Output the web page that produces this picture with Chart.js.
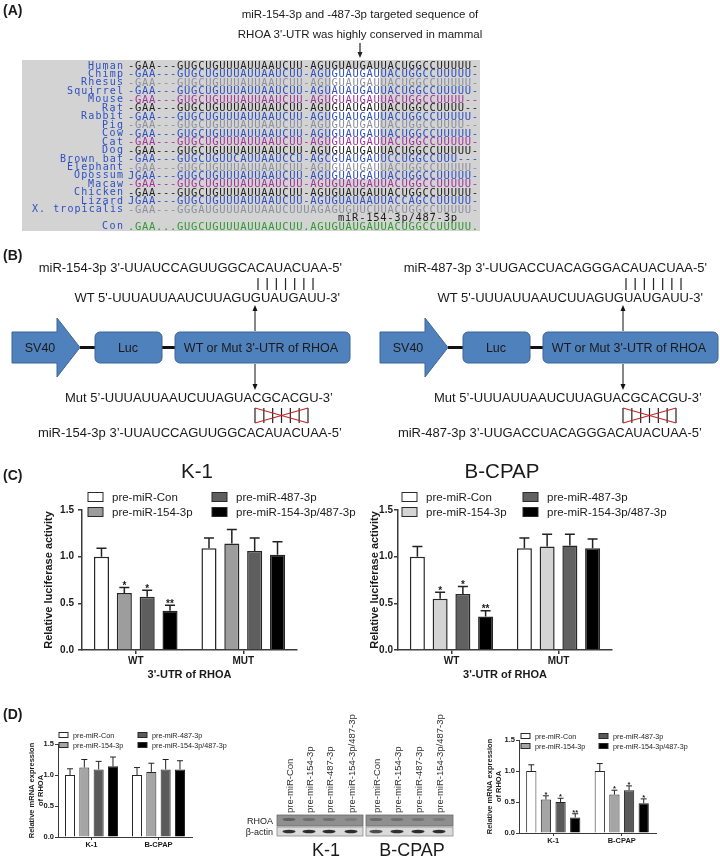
<!DOCTYPE html>
<html><head><meta charset="utf-8">
<script src="https://cdn.jsdelivr.net/npm/chart.js@4.4.1/dist/chart.umd.min.js"></script>
<style>
html,body{margin:0;padding:0;background:#fff;}
#root{position:relative;width:720px;height:859px;overflow:hidden;background:#fff;}
canvas{position:absolute;}
#ov{position:absolute;left:0;top:0;pointer-events:none;}
</style></head><body><div id="root">
<canvas id="cK1" width="310" height="195" style="left:0px;top:490px"></canvas>
<canvas id="cBC" width="310" height="195" style="left:316px;top:490px"></canvas>
<canvas id="dL" width="200" height="120" style="left:0px;top:730px"></canvas>
<canvas id="dR" width="180" height="120" style="left:480px;top:726px"></canvas>
<svg id="ov" width="720" height="859" xmlns="http://www.w3.org/2000/svg"></svg>
</div>
<script>
// ---------------- DATA ----------------
const alignSpecies = ["Human","Chimp","Rhesus","Squirrel","Mouse","Rat","Rabbit","Pig","Cow","Cat","Dog","Brown bat","Elephant","Opossum","Macaw","Chicken","Lizard","X. tropicalis"];
const alignSeqs = [
"-GAA---GUGCUGUUUAUUAAUCUU-AGUGUAUGAUUACUGGCCUUUUU-",
"-GAA---GUGCUGUUUAUUAAUCUU-AGUGUAUGAUUACUGGCCUUUUU-",
"-GAA---GUGCUGUUUAUUAAUCUU-AGUGUAUGAUUACUGGCCUUUUU-",
"-GAA---GUGCUGUUUAUUAAUCUU-AGUAUAUGAUUACUGGCCUUUUU-",
"-GAA---GUGCUGUUUAUUAAUCUU-AGUGUAUGAUUACUGGCCUUUU--",
"-GAA---GUGCUGUUUAUUAAUCUU-AGUGUAUGAUUACUGGCCUUUU--",
"-GAA---GUGCUGUUUAUUAAUCUU-AGUGUAUGAUUACUGGCCUUUUU-",
"-GAA---GUGCUGUUUAUUAAUCUU-AGUGUAUGAUUACUGGCCUUUU--",
"-GAA---GUGCUGUUUAUUAAUCUU-AGUGUAUGAUUACUGGCCUUUUU-",
"-GAA---GUGCUGUUUAUUAAUCUU-AGUGUAUGAUUACUGGCCUUUUU-",
"-GAA---GUGCUGUUUAUUAAUCUU-AGUGUAUGAUUACUGGCCUUUUU-",
"-GAA---GUGCUGUUCAUUAAUCCU-AGCGUAUGAUUCCUGGCCUUU---",
"-GAA---GUGCUGUUUAUUAAUCUU-AGUGUAUGAUUACUGGCCUUUUU-",
"JGAA---GUGCUGUUUAUUAAUCUU-AGUGUAUGAUUACUGGCCUUUUU-",
"-GAA---GUGCUGUUUAUUAAUCUU-AGUGUAUGAUUACUGGCCUUUUU-",
"-GAA---GUGCUGUUUAUUAAUCUU-AGUGUAUGAUUACUGGCCUUUUU-",
"JGAA---GUGCUGUUUAUUAAUCUU-AGUGUAUAAUUACCAGCCUUUUU-",
"-GAA---GGGAUGUUUAUUAAUCUUUAGAGUGUUCUUACUGGCCUUUUU-"];
const consensusLabel = "miR-154-3p/487-3p";
const consensusName = "Con";
const consensusSeq = ".GAA...GUGCUGUUUAUUAAUCUU.AGUGUAUGAUUACUGGCCUUUUU.";

const seriesNames = ["pre-miR-Con","pre-miR-154-3p","pre-miR-487-3p","pre-miR-154-3p/487-3p"];
const utrGroups = ["WT","MUT"];
const cellGroups = ["K-1","B-CPAP"];

// (C) luciferase, K-1  [series][group]
const lucK1Mean = [[1.00,1.09],[0.61,1.14],[0.57,1.06],[0.42,1.02]];
const lucK1Err  = [[0.09,0.11],[0.06,0.15],[0.07,0.14],[0.06,0.14]];
const lucK1Sig  = [["",""],["*",""],["*",""],["**",""]];
// (C) luciferase, B-CPAP
const lucBCMean = [[1.00,1.09],[0.55,1.11],[0.60,1.12],[0.36,1.09]];
const lucBCErr  = [[0.11,0.11],[0.07,0.13],[0.08,0.12],[0.06,0.10]];
const lucBCSig  = [["",""],["*",""],["*",""],["**",""]];
// (D) mRNA
const mrnaMean = [[1.00,1.00],[1.12,1.05],[1.09,1.09],[1.14,1.09]];
const mrnaErr  = [[0.10,0.12],[0.13,0.14],[0.13,0.16],[0.15,0.14]];
// (D) protein (right)
const protMean = [[1.00,1.00],[0.54,0.62],[0.50,0.69],[0.25,0.48]];
const protErr  = [[0.10,0.12],[0.06,0.07],[0.06,0.07],[0.06,0.07]];
const protSig  = [["",""],["*","*"],["*","*"],["**","*"]];
// blot band intensities (K-1 lanes then B-CPAP lanes)
const blotRhoa  = [0.55,0.38,0.36,0.22, 0.42,0.38,0.32,0.24];
const blotActin = [0.90,0.92,0.92,0.92, 0.75,0.90,0.92,0.92];

// ---------------- STYLE ----------------
const FONTF = '"Liberation Sans", Arial, Helvetica, sans-serif';
const MONO = '"DejaVu Sans Mono", monospace';
const AXIS = '#3a3a3a';
const colK1 = ['#ffffff','#9d9d9d','#5e5e5e','#000000'];
const colBC = ['#ffffff','#d4d4d4','#616161','#000000'];
const colD  = ['#ffffff','#a5a5a5','#5a5a5a','#000000'];
const rowColors = ['#1e1e1e','#2e4fc0','#8d8f9c','#2e4fc0','#a2329a'];
const nameColor = '#2e4fc0';

// ---------------- SVG helpers ----------------
const NS = "http://www.w3.org/2000/svg";
const svg = document.getElementById('ov');
function el(tag, attrs, text) {
  const e = document.createElementNS(NS, tag);
  for (const k in attrs) e.setAttribute(k, attrs[k]);
  if (text != null) e.textContent = text;
  svg.appendChild(e); return e;
}
function txt(x, y, s, o) {
  return el('text', Object.assign({x: x, y: y, 'font-family': FONTF, 'font-size': 12, fill: '#1a1a1a', 'dominant-baseline': 'central'}, o || {}), s);
}

// ---------------- PANEL A ----------------
txt(3, 10, '(A)', {'font-size': 14, 'font-weight': 'bold'});
txt(360, 14, 'miR-154-3p and -487-3p targeted sequence of', {'text-anchor': 'middle', 'font-size': 11.5});
txt(360, 34, "RHOA 3'-UTR was highly conserved in mammal", {'text-anchor': 'middle', 'font-size': 11.5});
el('line', {x1: 360, y1: 43, x2: 360, y2: 54, stroke: '#222', 'stroke-width': 1.2});
el('polygon', {points: '357.5,52 362.5,52 360,58', fill: '#222'});
const AX = 128, CW = 7, RY0 = 65, RH = 8.46;
el('rect', {x: 22, y: 60, width: 458, height: 171, fill: '#d3d3d3'});
el('rect', {x: AX + 29 * CW, y: RY0 + RH * 0.5, width: 7 * CW, height: RH * 13, fill: '#ffffff'});
const seqAttr = {'font-family': MONO, 'font-size': 10.5, lengthAdjust: 'spacing'};
alignSpecies.forEach((n, i) => {
  const y = RY0 + i * RH;
  txt(123, y, n, Object.assign({}, seqAttr, {'font-size': 10, fill: nameColor, 'text-anchor': 'end', textLength: n.length * CW}));
  txt(AX, y, alignSeqs[i], Object.assign({}, seqAttr, {fill: rowColors[i % 5], textLength: alignSeqs[i].length * CW}));
});
txt(AX + 30 * CW, RY0 + 18 * RH, consensusLabel, Object.assign({}, seqAttr, {fill: '#1e1e1e', textLength: consensusLabel.length * CW}));
txt(123, RY0 + 19 * RH, consensusName, Object.assign({}, seqAttr, {'font-size': 10, fill: nameColor, 'text-anchor': 'end', textLength: 3 * CW}));
txt(AX, RY0 + 19 * RH, consensusSeq, Object.assign({}, seqAttr, {fill: '#2f9a2f', textLength: consensusSeq.length * CW}));

// ---------------- PANEL B ----------------
txt(3, 255, '(B)', {'font-size': 14, 'font-weight': 'bold'});
const BLUE = '#4f81bd', BLUE_S = '#3b6596';
function construct(dx) {
  el('polygon', {points: `${12+dx},332 ${57+dx},332 ${57+dx},318 ${80+dx},347.5 ${57+dx},377 ${57+dx},363 ${12+dx},363`, fill: BLUE, stroke: BLUE_S, 'stroke-width': 1});
  el('line', {x1: 80+dx, y1: 347.5, x2: 95+dx, y2: 347.5, stroke: '#111', 'stroke-width': 3});
  el('line', {x1: 162+dx, y1: 347.5, x2: 175+dx, y2: 347.5, stroke: '#111', 'stroke-width': 3});
  el('rect', {x: 95+dx, y: 332, width: 67, height: 31, rx: 5, fill: BLUE, stroke: BLUE_S, 'stroke-width': 1});
  el('rect', {x: 175+dx, y: 332, width: 175, height: 31, rx: 5, fill: BLUE, stroke: BLUE_S, 'stroke-width': 1});
  txt(40+dx, 347.5, 'SV40', {'text-anchor': 'middle', 'font-size': 12.5});
  txt(128+dx, 347.5, 'Luc', {'text-anchor': 'middle', 'font-size': 12.5});
  txt(261+dx, 347.5, "WT or Mut 3'-UTR of RHOA", {'text-anchor': 'middle', 'font-size': 12.5});
  const ax = 255 + dx;
  el('line', {x1: ax, y1: 331, x2: ax, y2: 309, stroke: '#111', 'stroke-width': 1});
  el('polygon', {points: `${ax-2.5},311 ${ax+2.5},311 ${ax},305`, fill: '#111'});
  el('line', {x1: ax, y1: 364, x2: ax, y2: 386, stroke: '#111', 'stroke-width': 1});
  el('polygon', {points: `${ax-2.5},384 ${ax+2.5},384 ${ax},390`, fill: '#111'});
  for (let k = 0; k < 7; k++) {
    const bx = 258 + dx + k * 9.17;
    el('line', {x1: bx, y1: 278, x2: bx, y2: 290, stroke: '#222', 'stroke-width': 1.2});
  }
  for (let k = 0; k < 7; k++) {
    const bx = 255 + dx + k * (53 / 6);
    el('line', {x1: bx, y1: 408, x2: bx, y2: 423, stroke: '#222', 'stroke-width': 1.2});
  }
  el('line', {x1: 255+dx, y1: 408, x2: 308+dx, y2: 423, stroke: '#c0282d', 'stroke-width': 1.2});
  el('line', {x1: 255+dx, y1: 423, x2: 308+dx, y2: 408, stroke: '#c0282d', 'stroke-width': 1.2});
}
construct(0);
construct(368);
const seqFont = {'text-anchor': 'end', 'font-size': 13};
txt(342, 267, "miR-154-3p 3'-UUAUCCAGUUGGCACAUACUAA-5'", seqFont);
txt(340, 297, "WT 5'-UUUAUUAAUCUUAGUGUAUGAUU-3'", seqFont);
txt(333, 397, "Mut 5\u2019-UUUAUUAAUCUUAGUACGCACGU-3\u2019", seqFont);
txt(342, 432, "miR-154-3p 3\u2019-UUAUCCAGUUGGCACAUACUAA-5\u2019", seqFont);
txt(707, 267, "miR-487-3p 3'-UUGACCUACAGGGACAUACUAA-5'", seqFont);
txt(703, 297, "WT 5'-UUUAUUAAUCUUAGUGUAUGAUU-3'", seqFont);
txt(702, 397, "Mut 5\u2019-UUUAUUAAUCUUAGUACGCACGU-3\u2019", seqFont);
txt(702, 432, "miR-487-3p 3\u2019-UUGACCUACAGGGACAUACUAA-5\u2019", seqFont);

// ---------------- PANEL C / D labels & legends ----------------
txt(3, 475, '(C)', {'font-size': 14, 'font-weight': 'bold'});
txt(197, 470, 'K-1', {'text-anchor': 'middle', 'font-size': 20.5});
txt(502, 470, 'B-CPAP', {'text-anchor': 'middle', 'font-size': 20.5});
txt(3, 714, '(D)', {'font-size': 14, 'font-weight': 'bold'});

function drawLegend(colX, rowY, boxW, boxH, gap, fs, colors) {
  const place = [[0,0],[0,1],[1,0],[1,1]];
  seriesNames.forEach((n, i) => {
    const x = colX[place[i][0]], y = rowY[place[i][1]];
    el('rect', {x: x, y: y - boxH / 2, width: boxW, height: boxH, fill: colors[i], stroke: '#2a2a2a', 'stroke-width': 1});
    txt(x + boxW + gap, y, n, {'font-size': fs});
  });
}
drawLegend([88, 212], [497, 512], 15, 9, 9, 11.5, colK1);
drawLegend([402, 523], [497, 512], 15, 9, 9, 11.5, colBC);
drawLegend([59, 138], [735, 745], 9, 5, 5, 7.2, colD);
drawLegend([521, 599], [736, 746], 9, 5, 5, 7.2, colD);

// ---------------- Blot ----------------
const laneX = [289, 309, 329, 351, 376, 397, 418, 439];
[[277, 363], [366, 453]].forEach(([x0, x1]) => {
  el('rect', {x: x0, y: 815, width: x1 - x0, height: 11, fill: '#8f8f8f', stroke: '#6a6a6a', 'stroke-width': 0.8});
  el('rect', {x: x0, y: 827, width: x1 - x0, height: 9, fill: '#dadada', stroke: '#8a8a8a', 'stroke-width': 0.8});
});
laneX.forEach((x, i) => {
  el('ellipse', {cx: x, cy: 819.5, rx: 6.5, ry: 1.6, fill: '#3a3a3a', 'fill-opacity': blotRhoa[i]});
  el('ellipse', {cx: x, cy: 831.5, rx: 6.5, ry: 1.8, fill: '#1e1e1e', 'fill-opacity': blotActin[i]});
  const e = txt(0, 0, seriesNames[i % 4], {'font-size': 9.5, fill: '#333', 'text-anchor': 'start'});
  e.setAttribute('transform', `translate(${x},813) rotate(-90)`);
});
txt(273, 820.5, 'RHOA', {'font-size': 9, 'text-anchor': 'end'});
txt(273, 831.5, '\u03b2-actin', {'font-size': 9, 'text-anchor': 'end'});
txt(326, 850, 'K-1', {'font-size': 18, 'text-anchor': 'middle'});
txt(412, 850, 'B-CPAP', {'font-size': 18, 'text-anchor': 'middle'});

// ---------------- Charts ----------------
const errorBars = {
  id: 'errbars',
  afterDatasetsDraw(chart, args, opts) {
    const ctx = chart.ctx, ys = chart.scales.y;
    chart.data.datasets.forEach((ds, i) => {
      const meta = chart.getDatasetMeta(i);
      meta.data.forEach((bar, j) => {
        const v = ds.data[j], e = ds.errors[j];
        const yTop = ys.getPixelForValue(v + e), yBar = ys.getPixelForValue(v);
        ctx.save();
        ctx.strokeStyle = '#222'; ctx.lineWidth = opts.lw;
        ctx.beginPath();
        ctx.moveTo(bar.x, yBar); ctx.lineTo(bar.x, yTop);
        ctx.moveTo(bar.x - opts.cap / 2, yTop); ctx.lineTo(bar.x + opts.cap / 2, yTop);
        ctx.stroke();
        const s = ds.sig ? ds.sig[j] : '';
        if (s) {
          ctx.fillStyle = '#1a1a1a'; ctx.font = opts.starFont;
          ctx.textAlign = 'center'; ctx.textBaseline = 'alphabetic';
          ctx.fillText(s, bar.x, yTop + opts.starDy);
        }
        ctx.restore();
      });
    });
  }
};

function buildChart(id, groups, means, errs, sigs, colors, o) {
  const datasets = seriesNames.map((name, i) => ({
    label: name, data: means[i], errors: errs[i], sig: sigs ? sigs[i] : null,
    backgroundColor: colors[i], borderColor: '#262626', borderWidth: o.bw,
    categoryPercentage: o.cat, barPercentage: o.bar
  }));
  const tickFont = {family: FONTF, size: o.tick, weight: 'bold'};
  const titleFont = {family: FONTF, size: o.ttl, weight: 'bold'};
  return new Chart(document.getElementById(id), {
    type: 'bar',
    data: {labels: groups, datasets: datasets},
    options: {
      responsive: false, animation: false, devicePixelRatio: 1,
      layout: {padding: o.pad},
      plugins: {legend: {display: false}, tooltip: {enabled: false},
        errbars: {cap: o.cap, lw: o.elw, starFont: o.star, starDy: o.starDy}},
      scales: {
        x: {
          offset: true,
          grid: {display: true, drawOnChartArea: false, drawTicks: true, tickLength: o.tl, offset: false, color: AXIS, lineWidth: o.alw},
          border: {display: true, color: AXIS, width: o.alw},
          ticks: {font: tickFont, color: '#1a1a1a', padding: o.xpad, maxRotation: 0, autoSkip: false},
          title: o.xtitle ? {display: true, text: o.xtitle, font: titleFont, color: '#1a1a1a', padding: {top: 0, bottom: o.xtpad}} : {display: false},
          afterFit: s => { s.height = o.xh; }
        },
        y: {
          min: 0, max: 1.5,
          ticks: {stepSize: 0.5, font: tickFont, color: '#1a1a1a', padding: o.ypad, callback: v => Number(v).toFixed(1)},
          grid: {display: true, drawOnChartArea: false, drawTicks: true, tickLength: o.tl, color: AXIS, lineWidth: o.alw},
          border: {display: true, color: AXIS, width: o.alw},
          title: {display: true, text: o.ytitle, font: titleFont, color: '#1a1a1a', padding: {top: o.ytpad, bottom: 0}},
          afterFit: s => { s.width = o.yw; }
        }
      }
    },
    plugins: [errorBars]
  });
}

const cOpts = {bw: 1.5, cat: 0.85, bar: 0.66, tick: 10, ttl: 11, tl: 4, alw: 1.5, xpad: 1, ypad: 4,
  xtitle: "3'-UTR of RHOA", xtpad: 3.4, xh: 35, ytitle: 'Relative luciferase activity',
  cap: 10, elw: 1.5, star: 'bold 10px "Liberation Sans", Arial', starDy: 1.5};
buildChart('cK1', utrGroups, lucK1Mean, lucK1Err, lucK1Sig, colK1,
  Object.assign({}, cOpts, {pad: {left: 40, top: 20, right: 13, bottom: 0}, yw: 42, ytpad: 2.4}));
buildChart('cBC', utrGroups, lucBCMean, lucBCErr, lucBCSig, colBC,
  Object.assign({}, cOpts, {pad: {left: 50, top: 20, right: 14, bottom: 0}, yw: 32, ytpad: 2.4, ypad: 1}));

const dOpts = {bw: 1, cat: 0.855, bar: 0.7, tick: 7.5, ttl: 7.5, tl: 3, alw: 1, xpad: 0.5, ypad: 1,
  xtitle: null, xh: 13, ytitle: ['Relative mRNA expression', 'of RHOA'],
  cap: 6, elw: 1, star: 'bold 7.5px "Liberation Sans", Arial', starDy: 1.2, ytpad: 3.5};
buildChart('dL', cellGroups, mrnaMean, mrnaErr, null, colD,
  Object.assign({}, dOpts, {pad: {left: 24, top: 14, right: 8, bottom: 0}, yw: 34}));
buildChart('dR', cellGroups, protMean, protErr, protSig, colD,
  Object.assign({}, dOpts, {pad: {left: 2, top: 14, right: 4, bottom: 0}, yw: 37}));
</script>
</body></html>
